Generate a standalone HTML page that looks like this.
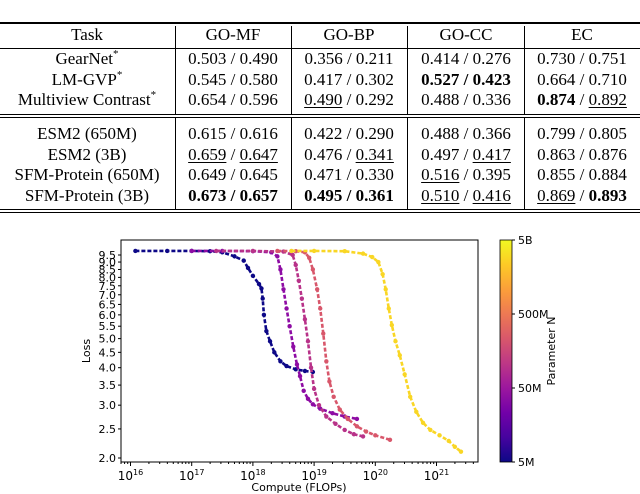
<!DOCTYPE html>
<html><head><meta charset="utf-8"><style>
body{margin:0;width:640px;height:494px;background:#fff;position:relative;overflow:hidden;font-family:"Liberation Serif",serif}
.rule{position:absolute;left:0;width:640px;background:#000}
.vsep{position:absolute;width:1px;background:#000}
.cell{position:absolute;font-size:17px;text-align:center;transform:translateX(-50%);white-space:nowrap;line-height:20px}
sup{font-size:11px;line-height:0;vertical-align:0;position:relative;top:-7px}
u{text-decoration:underline;text-underline-offset:2px}
svg{position:absolute;left:0;top:0}
</style></head><body>
<div id="table"></div>
<svg id="chart" width="640" height="494"></svg>
<script>
// ---- table ----
const colCenters=[87,233,349,466,582];
const headers=["Task","GO-MF","GO-BP","GO-CC","EC"];
const rows=[
["GearNet<sup>*</sup>","0.503 / 0.490","0.356 / 0.211","0.414 / 0.276","0.730 / 0.751"],
["LM-GVP<sup>*</sup>","0.545 / 0.580","0.417 / 0.302","<b>0.527 / 0.423</b>","0.664 / 0.710"],
["Multiview Contrast<sup>*</sup>","0.654 / 0.596","<u>0.490</u> / 0.292","0.488 / 0.336","<b>0.874</b> / <u>0.892</u>"],
["ESM2 (650M)","0.615 / 0.616","0.422 / 0.290","0.488 / 0.366","0.799 / 0.805"],
["ESM2 (3B)","<u>0.659</u> / <u>0.647</u>","0.476 / <u>0.341</u>","0.497 / <u>0.417</u>","0.863 / 0.876"],
["SFM-Protein (650M)","0.649 / 0.645","0.471 / 0.330","<u>0.516</u> / 0.395","0.855 / 0.884"],
["SFM-Protein (3B)","<b>0.673 / 0.657</b>","<b>0.495 / 0.361</b>","<u>0.510</u> / <u>0.416</u>","<u>0.869</u> / <b>0.893</b>"]];
const rowY=[49,70,90,124,145,165,186];
const T=document.getElementById('table');
let h='';
[[22,2],[48,1],[114,1],[117,1],[209,1],[212,1]].forEach(r=>{h+=`<div class="rule" style="top:${r[0]}px;height:${r[1]}px"></div>`;});
[175,291,407,524].forEach(x=>{h+=`<div class="vsep" style="left:${x}px;top:26px;height:88px"></div><div class="vsep" style="left:${x}px;top:118px;height:91px"></div>`;});
headers.forEach((t,i)=>{h+=`<div class="cell" style="left:${colCenters[i]}px;top:25px">${t}</div>`;});
rows.forEach((r,j)=>r.forEach((t,i)=>{h+=`<div class="cell" style="left:${colCenters[i]}px;top:${rowY[j]}px">${t}</div>`;}));
T.innerHTML=h;

// ---- chart data ----
const seriesNames=["5M","30M","150M","400M","5B"];
const seriesColors=["#0d0887","#8e0ca4","#b83289","#d8576b","#f9d624"];
const s5M=[[16.08,9.8],[16.6,9.8],[17.0,9.8],[17.3,9.78],[17.5,9.7],[17.7,9.4],[17.85,9.1],[17.92,8.6],[18.0,8.1],[18.1,7.6],[18.14,7.35],[18.16,6.8],[18.18,6.0],[18.22,5.3],[18.28,4.9],[18.35,4.5],[18.45,4.2],[18.55,4.05],[18.7,3.95],[18.85,3.9],[18.98,3.87]];
const s30M=[[17.0,9.8],[17.5,9.8],[18.0,9.78],[18.3,9.7],[18.4,9.4],[18.45,8.5],[18.5,7.3],[18.55,6.3],[18.6,5.5],[18.66,4.7],[18.72,4.1],[18.77,3.75],[18.83,3.35],[18.9,3.15],[18.98,3.02],[19.1,2.92],[19.3,2.82],[19.5,2.75],[19.7,2.7]];
const s150M=[[17.4,9.8],[18.0,9.8],[18.5,9.75],[18.65,9.5],[18.7,8.8],[18.75,7.8],[18.8,6.8],[18.85,5.8],[18.9,4.9],[18.95,4.0],[19.0,3.4],[19.08,3.0],[19.2,2.75],[19.35,2.6],[19.5,2.48],[19.65,2.4],[19.8,2.36]];
const s400M=[[18.4,9.8],[18.7,9.78],[18.85,9.7],[18.92,9.3],[18.98,8.5],[19.05,7.3],[19.1,6.3],[19.15,5.2],[19.2,4.2],[19.25,3.6],[19.32,3.2],[19.42,2.9],[19.55,2.7],[19.7,2.55],[19.85,2.45],[20.0,2.38],[20.24,2.3]];
const s5B=[[18.63,9.8],[19.0,9.8],[19.5,9.78],[19.8,9.6],[19.95,9.35],[20.05,9.0],[20.12,8.2],[20.17,7.3],[20.22,6.3],[20.27,5.55],[20.33,4.9],[20.4,4.4],[20.48,3.8],[20.57,3.2],[20.67,2.85],[20.78,2.62],[20.9,2.48],[21.05,2.38],[21.2,2.28],[21.3,2.18],[21.4,2.1]];
const yTicks=[2.0,2.5,3.0,3.5,4.0,4.5,5.0,5.5,6.0,6.5,7.0,7.5,8.0,8.5,9.0,9.5];
const xTickExps=[16,17,18,19,20,21];
const cbLabels=["5M","50M","500M","5B"];

const AX={l:121,r:478,t:240,b:462};
const xs=e=>130.5+(e-16)*61.2;
const ys=v=>458-Math.log10(v/2)*300;
const NS='http://www.w3.org/2000/svg';
const S=document.getElementById('chart');
function mk(tag,attrs,parent){const e=document.createElementNS(NS,tag);for(const k in attrs)e.setAttribute(k,attrs[k]);(parent||S).appendChild(e);return e;}

let fr=mk('rect',{x:AX.l,y:AX.t,width:AX.r-AX.l,height:AX.b-AX.t,fill:'none',stroke:'#000','stroke-width':1});



xTickExps.forEach(e=>{
  const x=xs(e);
  mk('line',{x1:x,x2:x,y1:AX.b,y2:AX.b+4,stroke:'#000'});
  for(let k=2;k<10;k++){const xm=xs(e+Math.log10(k));if(xm<AX.r)mk('line',{x1:xm,x2:xm,y1:AX.b,y2:AX.b+2,stroke:'#000'});}
  const t=mk('text',{x:x,y:AX.b+18,'text-anchor':'middle','font-size':12,'font-family':'DejaVu Sans, sans-serif'});
  
  
  t.innerHTML='10<tspan dy="-5" font-size="8">'+e+'</tspan>';
});
for(let k=7;k<10;k++){const xm=xs(15+Math.log10(k));if(xm>AX.l)mk('line',{x1:xm,x2:xm,y1:AX.b,y2:AX.b+2,stroke:'#000'});}
yTicks.forEach(v=>{
  const y=ys(v);
  mk('line',{x1:AX.l-3,x2:AX.l,y1:y,y2:y,stroke:'#000'});
  const t=mk('text',{x:AX.l-5,y:y+4,'text-anchor':'end','font-size':11,'font-family':'DejaVu Sans, sans-serif'});
  
  
  t.textContent=v.toFixed(1);
});
let xl=mk('text',{x:299,y:491,'text-anchor':'middle','font-size':11,'font-family':'DejaVu Sans, sans-serif'});


xl.textContent='Compute (FLOPs)';
let yl=mk('text',{x:0,y:0,'text-anchor':'middle','font-size':11,'font-family':'DejaVu Sans, sans-serif',transform:'translate(90,351) rotate(-90)'});


yl.textContent='Loss';

[s5M,s30M,s150M,s400M,s5B].forEach((s,i)=>{
  const g=mk('g',{});
  
  
  mk('polyline',{points:s.map(p=>xs(p[0])+','+ys(p[1])).join(' '),fill:'none',stroke:seriesColors[i],'stroke-width':2.6,'stroke-dasharray':'4,2'},g);
  s.forEach(p=>{const c=mk('circle',{cx:xs(p[0]),cy:ys(p[1]),r:2.2,fill:seriesColors[i]},g);
    
    });
});

const defs=mk('defs',{});
const gr=mk('linearGradient',{id:'plasma',x1:0,y1:1,x2:0,y2:0},defs);
["#0d0887","#46039f","#7201a8","#9c179e","#bd3786","#d8576b","#ed7953","#fb9f3a","#fdca26","#f0f921"].forEach((c,i,a)=>mk('stop',{offset:i/(a.length-1),'stop-color':c},gr));
let cb=mk('rect',{x:500,y:240,width:12,height:222,fill:'url(#plasma)',stroke:'#000','stroke-width':0.8});


cbLabels.forEach((l,i)=>{
  const y=462-i*74;
  mk('line',{x1:512,x2:515,y1:y,y2:y,stroke:'#000'});
  const t=mk('text',{x:518,y:y+4,'font-size':11,'font-family':'DejaVu Sans, sans-serif'});
  
  
  t.textContent=l;
});
let cl=mk('text',{x:0,y:0,'text-anchor':'middle','font-size':11,'font-family':'DejaVu Sans, sans-serif',transform:'translate(555,351) rotate(-90)'});


cl.textContent='Parameter N';
</script>
</body></html>
